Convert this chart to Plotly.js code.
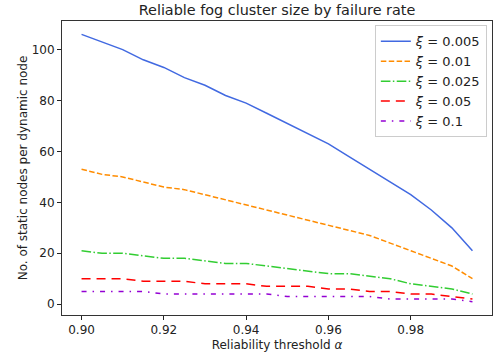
<!DOCTYPE html>
<html>
<head>
<meta charset="utf-8">
<script src="https://cdn.plot.ly/plotly-3.0.1.min.js"></script>
<style>html,body{margin:0;padding:0;background:#fff;}#chart{width:493px;height:360px;}</style>
</head>
<body>
<div id="chart"></div>
<script>
const alphaValues = [0.900, 0.905, 0.910, 0.915, 0.920, 0.925, 0.930, 0.935, 0.940, 0.945,
                     0.950, 0.955, 0.960, 0.965, 0.970, 0.975, 0.980, 0.985, 0.990, 0.995];
const seriesNames = ["<i>ξ</i> = 0.005", "<i>ξ</i> = 0.01", "<i>ξ</i> = 0.025", "<i>ξ</i> = 0.05", "<i>ξ</i> = 0.1"];
const xi0005 = [106,103,100,96,93,89,86,82,79,75,71,67,63,58,53,48,43,37,30,21];
const xi001  = [53,51,50,48,46,45,43,41,39,37,35,33,31,29,27,24,21,18,15,10];
const xi0025 = [21,20,20,19,18,18,17,16,16,15,14,13,12,12,11,10,8,7,6,4];
const xi005  = [10,10,10,9,9,9,8,8,8,7,7,7,6,6,5,5,4,4,3,2];
const xi01   = [5,5,5,5,4,4,4,4,4,4,3,3,3,3,3,2,2,2,2,1];
const xTickVals = [0.90, 0.92, 0.94, 0.96, 0.98];
const yTickVals = [0, 20, 40, 60, 80, 100];

const seriesData = [xi0005, xi001, xi0025, xi005, xi01];
const colors = ["#4169E1", "#FF8C00", "#32CD32", "#FF0000", "#9400D3"];
const dashes = ["solid", "5.5px,2.4px", "9.6px,2.4px,1.5px,2.4px", "9px,6px", "5px,6px,1.5px,6px"];

const traces = seriesData.map((ys, i) => ({
  x: alphaValues, y: ys, type: "scatter", mode: "lines", name: seriesNames[i],
  line: {color: colors[i], width: 1.5, dash: dashes[i]}
}));

const font = {family: "DejaVu Sans", size: 12, color: "#222"};
const layout = {
  width: 493, height: 360,
  margin: {l: 62, r: 1, t: 21, b: 45, pad: 0},
  paper_bgcolor: "#fff", plot_bgcolor: "#fff",
  font: font,
  title: {text: "Reliable fog cluster size by failure rate", font: {family: "DejaVu Sans", size: 14.4, color: "#222"},
          x: 0.5, xref: "paper", xanchor: "center", y: 0.972, yref: "container", yanchor: "middle"},
  xaxis: {range: [0.89525, 0.99975], tickvals: xTickVals, tickformat: ".2f",
          ticks: "outside", ticklen: 4, tickwidth: 1, tickcolor: "#222",
          showline: true, mirror: true, linecolor: "#333", linewidth: 1,
          showgrid: false, zeroline: false,
          title: {text: "Reliability threshold <i>α</i>", font: font, standoff: 4}},
  yaxis: {range: [-4.25, 111.25], tickvals: yTickVals,
          ticks: "outside", ticklen: 4, tickwidth: 1, tickcolor: "#222",
          showline: true, mirror: true, linecolor: "#333", linewidth: 1,
          showgrid: false, zeroline: false,
          title: {text: "No. of static nodes per dynamic node", font: font, standoff: 1}},
  legend: {x: 0.988, y: 0.985, xanchor: "right", yanchor: "top",
           bgcolor: "rgba(255,255,255,0.85)", bordercolor: "#ccc", borderwidth: 1,
           font: {family: "DejaVu Sans", size: 13, color: "#222"}, itemwidth: 30},
  showlegend: true
};
Plotly.newPlot("chart", traces, layout, {displayModeBar: false, staticPlot: true});
</script>
</body>
</html>
